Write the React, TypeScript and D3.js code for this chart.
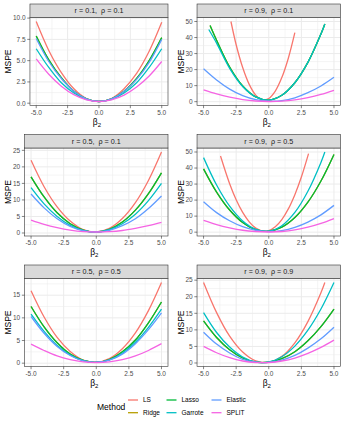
import React, { useEffect, useRef } from 'react';
import * as d3 from 'd3';

const methods = ['LS', 'Ridge', 'Lasso', 'Garrote', 'Elastic', 'SPLIT'];
const methodColors = ['#F8766D', '#B79F00', '#00BA38', '#00BFC4', '#619CFF', '#F564E3'];

const betaGrid = [-5, -4, -3, -2, -1, 0, 1, 2, 3, 4, 5];
const xTicks = [-5, -2.5, 0, 2.5, 5];
const xTickLabels = ['-5.0', '-2.5', '0.0', '2.5', '5.0'];

// r = 0.1, rho = 0.1
const p1LS = [9.6, 6.2, 3.6, 1.7, 0.55, 0.2, 0.55, 1.7, 3.5, 6.1, 9.5];
const p1Ridge = [7.9, 5.1, 3.0, 1.4, 0.5, 0.2, 0.5, 1.4, 2.9, 5.0, 7.7];
const p1Lasso = [7.9, 5.1, 3.0, 1.4, 0.5, 0.2, 0.5, 1.4, 2.9, 5.0, 7.7];
const p1Garrote = [6.4, 4.2, 2.4, 1.2, 0.45, 0.2, 0.45, 1.2, 2.4, 4.2, 6.4];
const p1Elastic = [7.6, 4.9, 2.9, 1.4, 0.5, 0.2, 0.5, 1.4, 2.8, 4.8, 7.5];
const p1Split = [5.2, 3.4, 2.0, 1.0, 0.4, 0.2, 0.4, 0.95, 1.9, 3.2, 4.9];
const p1YTicks = [0, 2.5, 5, 7.5, 10];
const p1YLabels = ['0.0', '2.5', '5.0', '7.5', '10.0'];

// r = 0.9, rho = 0.1
const p2LSx = [-2.9, -2.5, -2, -1.5, -1, -0.5, 0, 0.5, 1, 1.5, 2];
const p2LS = [50, 35.5, 21.3, 10.8, 4.1, 1.15, 2.0, 6.6, 15, 27.1, 43];
const p2Lassox = [-4.5, -4, -3, -2, -1, 0, 1, 2, 3, 4, 4.3];
const p2Ridge = [47.5, 38.3, 21.6, 9.8, 3.0, 1.0, 4.0, 11.8, 24.5, 42.2, 48.5];
const p2Lasso = [47.5, 38.3, 21.6, 9.8, 3.0, 1.0, 4.0, 11.8, 24.5, 42.2, 48.5];
const p2Garrotex = [-4.6, -4, -3, -2, -1, 0, 1, 2, 3, 4, 4.3];
const p2Garrote = [45, 36.5, 20.8, 9.5, 3.0, 1.0, 4.0, 11.8, 24.5, 42.2, 48.5];
const p2Elastic = [20.5, 13.5, 7.8, 3.7, 1.2, 0.3, 0.6, 2.4, 5.6, 9.8, 15.2];
const p2Split = [7.3, 4.8, 2.8, 1.3, 0.4, 0.1, 0.3, 1.1, 2.5, 4.5, 7.1];
const p2YTicks = [0, 10, 20, 30, 40, 50];

// r = 0.5, rho = 0.1
const p3LS = [22, 14.0, 7.9, 3.6, 1.0, 0.3, 1.4, 4.4, 9.2, 15.9, 24.5];
const p3Ridge = [17, 10.9, 6.1, 2.8, 0.9, 0.3, 1.1, 3.3, 6.9, 11.9, 18.2];
const p3Lasso = [17, 10.9, 6.1, 2.8, 0.9, 0.3, 1.1, 3.3, 6.9, 11.9, 18.2];
const p3Garrote = [13.7, 8.8, 5.0, 2.3, 0.75, 0.3, 1.0, 2.8, 5.7, 9.8, 15];
const p3Elastic = [11.8, 7.6, 4.3, 2.0, 0.7, 0.3, 0.8, 2.2, 4.3, 7.4, 11.2];
const p3Split = [3.9, 2.6, 1.6, 0.85, 0.4, 0.3, 0.4, 0.75, 1.4, 2.2, 3.2];
const p3YTicks = [0, 5, 10, 15, 20, 25];

// r = 0.9, rho = 0.5
const p4LSx = [-3.7, -3, -2.5, -2, -1.5, -1, -0.5, 0, 0.5, 1, 1.5, 2, 2.5, 3.05];
const p4LS = [47.5, 30.2, 20.2, 12.3, 6.4, 2.5, 0.66, 0.9, 3.3, 7.8, 14.5, 23.4, 34.4, 49];
const p4Ridge = [39.5, 25.0, 13.8, 6.0, 1.6, 0.6, 3.1, 9.1, 18.7, 31.9, 48.5];
const p4Lasso = [39.5, 25.0, 13.8, 6.0, 1.6, 0.6, 3.1, 9.1, 18.7, 31.9, 48.5];
const p4Garrotex = [-5, -4, -3, -2, -1, 0, 1, 2, 3, 4, 4.3];
const p4Garrote = [46.5, 29.4, 16.2, 7.0, 1.8, 0.6, 4.0, 12.3, 25.5, 43.5, 50];
const p4Elastic = [19, 12.2, 7.1, 3.4, 1.1, 0.4, 1.0, 3.0, 6.3, 10.8, 16.7];
const p4Split = [7.3, 4.7, 2.7, 1.2, 0.4, 0.1, 0.4, 1.4, 3.1, 5.5, 8.5];
const p4YTicks = [0, 10, 20, 30, 40, 50];

// r = 0.5, rho = 0.5
const p5LS = [16.0, 10.2, 5.7, 2.6, 0.7, 0.2, 1.0, 3.2, 6.7, 11.6, 17.8];
const p5Ridge = [12.5, 8.0, 4.5, 2.0, 0.6, 0.2, 0.8, 2.5, 5.1, 8.9, 13.5];
const p5Lasso = [12.5, 8.0, 4.5, 2.0, 0.6, 0.2, 0.8, 2.5, 5.1, 8.9, 13.5];
const p5Garrote = [10.8, 7.0, 3.9, 1.8, 0.55, 0.2, 0.7, 2.2, 4.6, 7.9, 11.9];
const p5Elastic = [10.3, 6.6, 3.7, 1.7, 0.5, 0.2, 0.65, 2.0, 4.3, 7.4, 11.1];
const p5Split = [4.2, 2.8, 1.6, 0.8, 0.3, 0.15, 0.3, 0.8, 1.6, 2.8, 4.3];
const p5YTicks = [0, 5, 10, 15];

// r = 0.9, rho = 0.9
const p6LSx = [-5, -4, -3, -2, -1, 0, 1, 2, 3, 4, 4.3];
const p6LS = [24.3, 15.2, 8.1, 3.3, 0.64, 0.2, 2.0, 6.1, 12.5, 21.2, 24.3];
const p6Ridge = [12.7, 7.7, 4.0, 1.5, 0.25, 0.25, 1.3, 3.4, 6.7, 11.0, 16.3];
const p6Lasso = [12.7, 7.7, 4.0, 1.5, 0.25, 0.25, 1.3, 3.4, 6.7, 11.0, 16.3];
const p6Garrote = [15.2, 9.2, 4.8, 1.8, 0.3, 0.3, 1.9, 5.1, 9.9, 16.3, 24.3];
const p6Elastic = [9.3, 5.7, 3.0, 1.1, 0.25, 0.2, 0.9, 2.3, 4.5, 7.3, 10.8];
const p6Split = [5.0, 3.1, 1.6, 0.6, 0.15, 0.15, 0.6, 1.5, 2.9, 4.7, 6.9];
const p6YTicks = [0, 5, 10, 15, 20, 25];

const panels = [
  { r: '0.1', rho: '0.1', yTicks: p1YTicks, yLabels: p1YLabels,
    series: [[betaGrid, p1LS], [betaGrid, p1Ridge], [betaGrid, p1Lasso], [betaGrid, p1Garrote], [betaGrid, p1Elastic], [betaGrid, p1Split]] },
  { r: '0.9', rho: '0.1', yTicks: p2YTicks, yLabels: p2YTicks.map(String),
    series: [[p2LSx, p2LS], [p2Lassox, p2Ridge], [p2Lassox, p2Lasso], [p2Garrotex, p2Garrote], [betaGrid, p2Elastic], [betaGrid, p2Split]] },
  { r: '0.5', rho: '0.1', yTicks: p3YTicks, yLabels: p3YTicks.map(String),
    series: [[betaGrid, p3LS], [betaGrid, p3Ridge], [betaGrid, p3Lasso], [betaGrid, p3Garrote], [betaGrid, p3Elastic], [betaGrid, p3Split]] },
  { r: '0.9', rho: '0.5', yTicks: p4YTicks, yLabels: p4YTicks.map(String),
    series: [[p4LSx, p4LS], [betaGrid, p4Ridge], [betaGrid, p4Lasso], [p4Garrotex, p4Garrote], [betaGrid, p4Elastic], [betaGrid, p4Split]] },
  { r: '0.5', rho: '0.5', yTicks: p5YTicks, yLabels: p5YTicks.map(String),
    series: [[betaGrid, p5LS], [betaGrid, p5Ridge], [betaGrid, p5Lasso], [betaGrid, p5Garrote], [betaGrid, p5Elastic], [betaGrid, p5Split]] },
  { r: '0.9', rho: '0.9', yTicks: p6YTicks, yLabels: p6YTicks.map(String),
    series: [[p6LSx, p6LS], [betaGrid, p6Ridge], [betaGrid, p6Lasso], [betaGrid, p6Garrote], [betaGrid, p6Elastic], [betaGrid, p6Split]] },
];

const W = 345;
const H = 423;
const cellW = 172.5;
const cellH = 130.5;
const FONT = 'Liberation Sans, Arial, sans-serif';

// ggplot-style minor breaks: midpoints of (extended) majors inside the limits
function minorBreaks(major: number[], lo: number, hi: number) {
  const step = major[1] - major[0];
  const ext = [major[0] - step, ...major, major[major.length - 1] + step];
  const out: number[] = [];
  for (let i = 0; i < ext.length - 1; i += 1) {
    const m = (ext[i] + ext[i + 1]) / 2;
    if (m > lo && m < hi) out.push(m);
  }
  return out;
}

export default function App() {
  const ref = useRef<SVGSVGElement>(null);

  useEffect(() => {
    const svg = d3.select(ref.current);
    svg.selectAll('*').remove();

    const measure = (txt: string, size: number) => {
      const t = svg.append('text').attr('font-family', FONT).attr('font-size', size).text(txt);
      const w = (t.node() as SVGTextElement).getComputedTextLength();
      t.remove();
      return w;
    };

    panels.forEach((p, i) => {
      const col = i % 2;
      const row = Math.floor(i / 2);
      const cx = col * cellW;
      const cy = row * cellH;
      const labelW = d3.max(p.yLabels, (l) => measure(l, 6.5)) || 0;
      const left = cx + 17.3 + labelW;
      const right = cx + cellW - 4.5;
      const top = cy + 17.5;
      const bottom = cy + 105.5;

      const x = d3.scaleLinear().domain([-5.5, 5.5]).range([left, right]);
      const allY = p.series.flatMap((s) => s[1]);
      const lo = d3.min(allY) as number;
      const hi = d3.max(allY) as number;
      const pad = (hi - lo) * 0.05;
      const y = d3.scaleLinear().domain([lo - pad, hi + pad]).range([bottom, top]);

      const g = svg.append('g');

      g.append('rect')
        .attr('x', left).attr('y', top)
        .attr('width', right - left).attr('height', bottom - top)
        .attr('fill', 'white');

      // grid
      const grid = g.append('g').attr('stroke', '#EBEBEB').attr('fill', 'none');
      minorBreaks(xTicks, -5.5, 5.5).forEach((v) => {
        grid.append('line').attr('x1', x(v)).attr('x2', x(v)).attr('y1', top).attr('y2', bottom)
          .attr('stroke-width', 0.5);
      });
      minorBreaks(p.yTicks, y.domain()[0], y.domain()[1]).forEach((v) => {
        grid.append('line').attr('x1', left).attr('x2', right).attr('y1', y(v)).attr('y2', y(v))
          .attr('stroke-width', 0.5);
      });
      xTicks.forEach((v) => {
        grid.append('line').attr('x1', x(v)).attr('x2', x(v)).attr('y1', top).attr('y2', bottom)
          .attr('stroke-width', 1);
      });
      p.yTicks.forEach((v) => {
        grid.append('line').attr('x1', left).attr('x2', right).attr('y1', y(v)).attr('y2', y(v))
          .attr('stroke-width', 1);
      });

      // curves
      const clipId = `clip${i}`;
      g.append('clipPath').attr('id', clipId)
        .append('rect').attr('x', left).attr('y', top)
        .attr('width', right - left).attr('height', bottom - top);
      const line = d3.line<[number, number]>()
        .x((d) => x(d[0]))
        .y((d) => y(d[1]))
        .curve(d3.curveCatmullRom.alpha(0.5));
      const curves = g.append('g').attr('clip-path', `url(#${clipId})`);
      p.series.forEach((s, k) => {
        const pts = s[0].map((xv, j) => [xv, s[1][j]] as [number, number]);
        curves.append('path')
          .attr('d', line(pts))
          .attr('fill', 'none')
          .attr('stroke', methodColors[k])
          .attr('stroke-width', 1.3);
      });

      // panel border
      g.append('rect')
        .attr('x', left).attr('y', top)
        .attr('width', right - left).attr('height', bottom - top)
        .attr('fill', 'none').attr('stroke', '#333333').attr('stroke-width', 0.6);

      // strip
      g.append('rect')
        .attr('x', left).attr('y', cy + 4)
        .attr('width', right - left).attr('height', top - (cy + 4))
        .attr('fill', '#D9D9D9').attr('stroke', '#333333').attr('stroke-width', 0.6);
      g.append('text')
        .attr('x', (left + right) / 2).attr('y', (cy + 4 + top) / 2 + 2.5)
        .attr('text-anchor', 'middle')
        .attr('font-family', FONT).attr('font-size', 7.2)
        .attr('fill', '#1A1A1A')
        .style('white-space', 'pre')
        .text(`r = ${p.r},  \u03C1 = ${p.rho}`);

      // y axis
      p.yTicks.forEach((v, j) => {
        g.append('line').attr('x1', left - 2.7).attr('x2', left).attr('y1', y(v)).attr('y2', y(v))
          .attr('stroke', '#333333').attr('stroke-width', 0.6);
        g.append('text')
          .attr('x', left - 4.3).attr('y', y(v) + 2.3)
          .attr('text-anchor', 'end')
          .attr('font-family', FONT).attr('font-size', 6.5)
          .attr('fill', '#4D4D4D')
          .text(p.yLabels[j]);
      });
      g.append('text')
        .attr('transform', `translate(${cx + 11},${(top + bottom) / 2}) rotate(-90)`)
        .attr('text-anchor', 'middle')
        .attr('font-family', FONT).attr('font-size', 8.5)
        .attr('fill', 'black')
        .text('MSPE');

      // x axis
      xTicks.forEach((v, j) => {
        g.append('line').attr('x1', x(v)).attr('x2', x(v)).attr('y1', bottom).attr('y2', bottom + 2.7)
          .attr('stroke', '#333333').attr('stroke-width', 0.6);
        g.append('text')
          .attr('x', x(v)).attr('y', bottom + 9.2)
          .attr('text-anchor', 'middle')
          .attr('font-family', FONT).attr('font-size', 6.5)
          .attr('fill', '#4D4D4D')
          .text(xTickLabels[j]);
      });
      const xt = g.append('text')
        .attr('x', (left + right) / 2 - 2).attr('y', bottom + 19)
        .attr('text-anchor', 'middle')
        .attr('font-family', FONT).attr('font-size', 8.5)
        .attr('fill', 'black');
      xt.append('tspan').text('\u03B2');
      xt.append('tspan').attr('dy', 2).attr('font-size', 6).text('2');
    });

    // legend
    const lg = svg.append('g');
    lg.append('text')
      .attr('x', 97).attr('y', 409.5)
      .attr('font-family', FONT).attr('font-size', 8.5)
      .attr('fill', 'black')
      .text('Method');
    const keyX = [128, 166.5, 211.5];
    const rowY = [400, 412.7];
    methods.forEach((m, k) => {
      const c = Math.floor(k / 2);
      const r = k % 2;
      lg.append('line')
        .attr('x1', keyX[c]).attr('x2', keyX[c] + 10)
        .attr('y1', rowY[r]).attr('y2', rowY[r])
        .attr('stroke', methodColors[k]).attr('stroke-width', 1.3);
      lg.append('text')
        .attr('x', keyX[c] + 15).attr('y', rowY[r] + 2.3)
        .attr('font-family', FONT).attr('font-size', 6.5)
        .attr('fill', 'black')
        .text(m);
    });
  }, []);

  return (
    <svg
      ref={ref}
      width={W}
      height={H}
      style={{ position: 'absolute', left: 0, top: 0, background: 'white' }}
    />
  );
}
